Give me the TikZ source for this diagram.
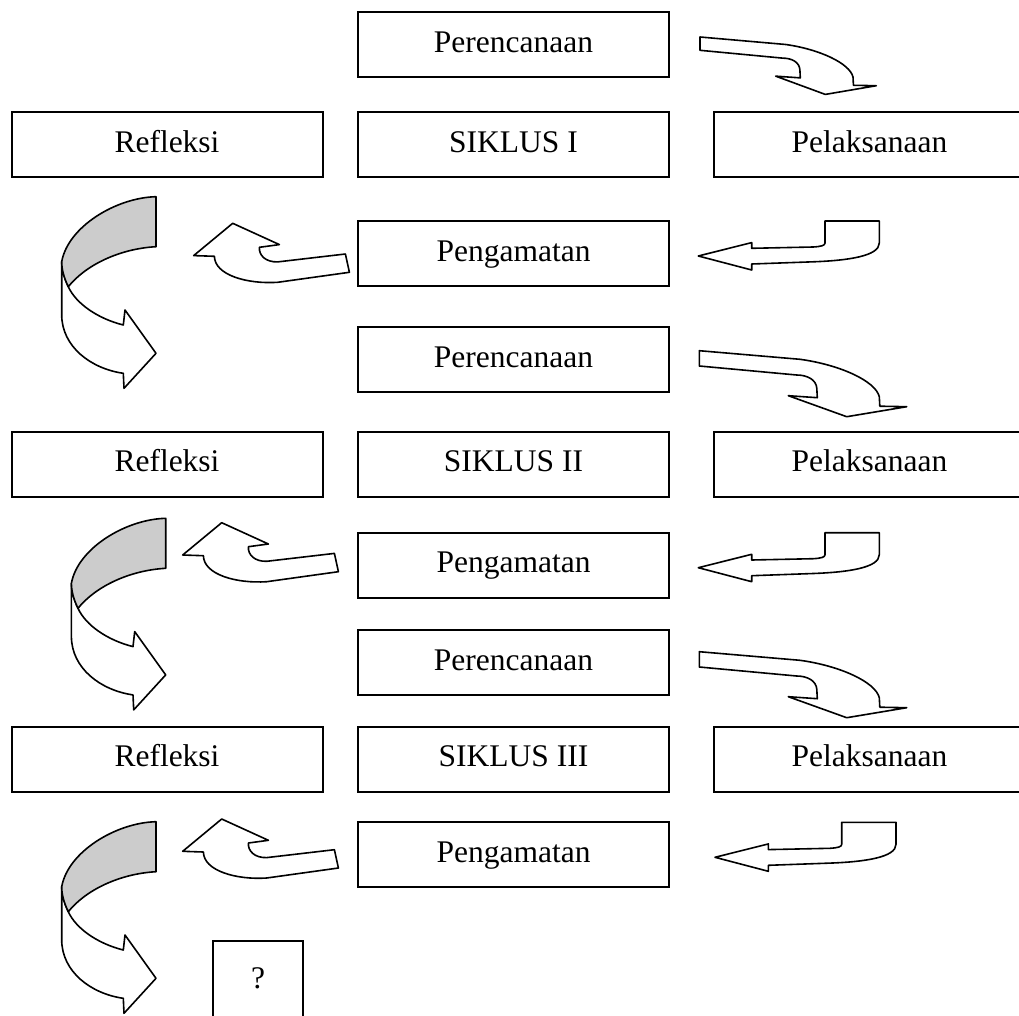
\documentclass[tikz,border=0pt]{standalone}
\usepackage{fontspec}
\setmainfont{Liberation Serif}
\usepackage{tikz}
\usetikzlibrary{positioning}
\tikzset{
  stage-box/.style={draw=black, fill=white, line width=2pt, inner sep=0pt,
    minimum width=311pt, minimum height=65pt,
    font=\fontsize{31.5}{36}\selectfont, text height=22pt, text depth=6.3pt},
  block-arrow/.style={draw=black, fill=white, line width=1.6pt, line join=round},
  band-shade/.style={block-arrow, fill=black!20},
  % Perencanaan -> Pelaksanaan
  plan-arrow/.pic={
    \draw[block-arrow] (0,0) -- (100.7,8.6) .. controls (140,14) and (176,30) .. (180,46)
      -- (180.5,55.5) -- (207.4,56) -- (147.4,66) -- (89,45) -- (118,47) -- (117.5,37.7)
      .. controls (117,29) and (108,24.3) .. (97.3,24.3) -- (0,15.3) -- cycle;
  },
  % Pelaksanaan -> Pengamatan
  do-arrow/.pic={
    \draw[block-arrow] (0,0) -- (53.4,-13.4) -- (53.4,-7.7) -- (115,-9)
      .. controls (123,-9.5) and (126.7,-10.5) .. (126.7,-13) -- (126.7,-35) -- (181,-35)
      -- (181,-13) .. controls (181,0) and (150,4.5) .. (115,5.8) -- (53.4,8) -- (53.4,14) -- cycle;
  },
  % Pengamatan -> Refleksi
  observe-arrow/.pic={
    \draw[block-arrow] (0,0) -- (46.7,21.3) -- (26.7,24) .. controls (26,32) and (33,39) .. (45,38.6)
      -- (112.7,30.7) -- (116.7,49) -- (45,59) .. controls (15,61) and (-18,52) .. (-18.3,33)
      -- (-39,32.3) -- cycle;
  },
  % Refleksi -> next cycle (twisted band)
  reflect-arrow/.pic={
    \draw[block-arrow] (-94.3,65) -- (-94.3,118) .. controls (-94.3,150) and (-65,172) .. (-32.7,176.6)
      -- (-32,191.6) -- (0,156.6) -- (-31,113.3) -- (-32.7,128.3)
      .. controls (-58,122) and (-80,107) .. (-87.7,90)
      .. controls (-92,81) and (-94.3,73) .. (-94.3,65) -- cycle;
    \draw[band-shade] (0,0) .. controls (-40,1) and (-88,30) .. (-94.3,65)
      .. controls (-94.3,73) and (-92,81) .. (-87.7,90)
      .. controls (-70,68) and (-36,52) .. (0,50) -- cycle;
  }
}

\begin{document}
\begin{tikzpicture}[x=1pt, y=-1pt]
  \useasboundingbox (0,0) rectangle (1019,1016);

  % Cycle I
  \node[stage-box] (per1) at (513.5,44.5) {Perencanaan};
  \node[stage-box] (ref1) at (167,144.5) {Refleksi};
  \node[stage-box] (sik1) at (513.5,144.5) {SIKLUS I};
  \node[stage-box] (pel1) at (869.5,144.5) {Pelaksanaan};
  \node[stage-box] (pen1) at (513.5,253.5) {Pengamatan};

  \pic[xscale=0.85, yscale=0.87] at (700,37) {plan-arrow};
  \pic at (698.3,256) {do-arrow};
  \pic at (232.7,223.3) {observe-arrow};
  \pic at (156,196.7) {reflect-arrow};

  % Cycle II
  \node[stage-box] (per2) at (513.5,359.5) {Perencanaan};
  \node[stage-box] (ref2) at (167,464) {Refleksi};
  \node[stage-box] (sik2) at (513.5,464) {SIKLUS II};
  \node[stage-box] (pel2) at (869.5,464) {Pelaksanaan};
  \node[stage-box] (pen2) at (513.5,565) {Pengamatan};

  \pic at (699.3,350.7) {plan-arrow};
  \pic at (698.3,567.7) {do-arrow};
  \pic at (221.7,522.7) {observe-arrow};
  \pic at (165.7,518.3) {reflect-arrow};

  % Cycle III
  \node[stage-box] (per3) at (513.5,662.5) {Perencanaan};
  \node[stage-box] (ref3) at (167,759) {Refleksi};
  \node[stage-box] (sik3) at (513.5,759) {SIKLUS III};
  \node[stage-box] (pel3) at (869.5,759) {Pelaksanaan};
  \node[stage-box] (pen3) at (513.5,854.5) {Pengamatan};

  \pic at (699.3,651.7) {plan-arrow};
  \pic at (715,857.3) {do-arrow};
  \pic at (221.7,819) {observe-arrow};
  \pic at (156,821.7) {reflect-arrow};

  % next cycle?
  \node[stage-box, minimum width=90pt, minimum height=79pt] (next) at (258,980.5) {?};
\end{tikzpicture}
\end{document}
